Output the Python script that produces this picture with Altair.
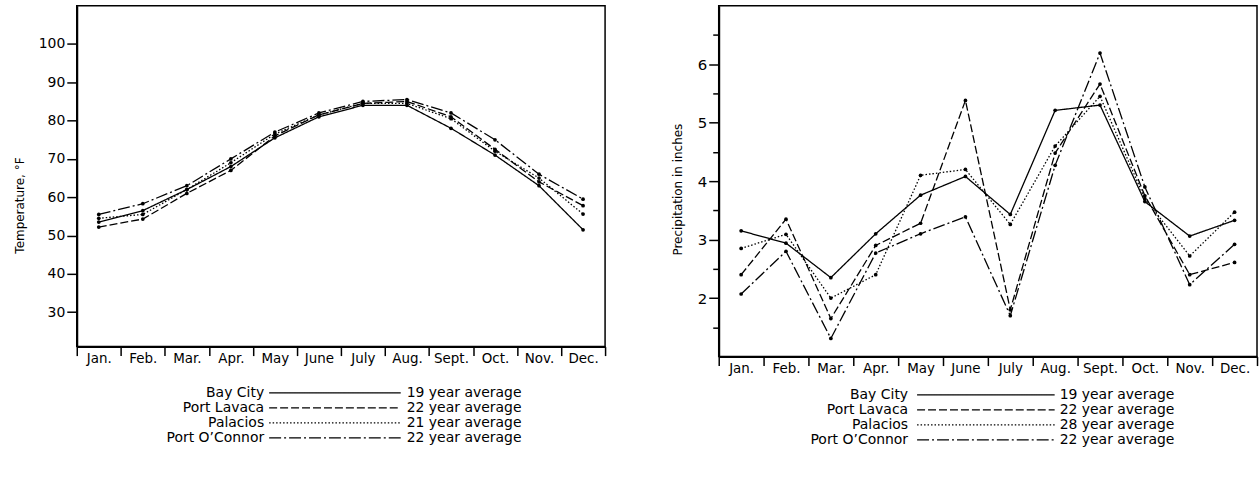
import altair as alt
import pandas as pd

months = ["Jan.", "Feb.", "Mar.", "Apr.", "May", "June", "July", "Aug.", "Sept.", "Oct.", "Nov.", "Dec."]
stations = ["Bay City", "Port Lavaca", "Palacios", "Port O\u2019Connor"]

# Temperature, deg F
temp_bay_city = [53.5, 56.5, 62.0, 68.0, 75.5, 81.0, 84.0, 84.0, 78.0, 71.0, 63.0, 51.5]
temp_port_lavaca = [52.2, 54.3, 61.0, 67.0, 76.0, 81.5, 84.5, 85.0, 81.0, 72.5, 64.0, 57.8]
temp_palacios = [54.5, 55.5, 62.0, 69.0, 76.5, 81.5, 84.5, 84.5, 80.5, 72.0, 65.0, 55.6]
temp_port_oconnor = [55.5, 58.3, 63.0, 70.0, 77.0, 82.0, 85.0, 85.5, 82.0, 75.0, 66.0, 59.5]

# Precipitation, inches
prec_bay_city = [3.15, 2.94, 2.35, 3.10, 3.76, 4.08, 3.43, 5.21, 5.30, 3.65, 3.06, 3.33]
prec_port_lavaca = [2.40, 3.35, 1.65, 2.90, 3.28, 5.38, 1.80, 4.48, 5.66, 3.75, 2.40, 2.61]
prec_palacios = [2.85, 3.09, 2.00, 2.40, 4.10, 4.20, 3.26, 4.60, 5.45, 3.70, 2.72, 3.47]
prec_port_oconnor = [2.07, 2.80, 1.31, 2.77, 3.10, 3.39, 1.70, 4.27, 6.19, 3.90, 2.23, 2.92]

temp_years = ["19 year average", "22 year average", "21 year average", "22 year average"]
prec_years = ["19 year average", "22 year average", "28 year average", "22 year average"]

temp_ticks = [30, 40, 50, 60, 70, 80, 90, 100]
prec_ticks = [1.5, 2, 2.5, 3, 3.5, 4, 4.5, 5, 5.5, 6, 6.5]

dash_styles = [[1, 0], [8, 3], [1.5, 2], [12, 3, 2, 3]]
FONT = "DejaVu Sans"


def long_table(series):
    rows = []
    for st, vals in zip(stations, series):
        for m, v in zip(months, vals):
            rows.append({"station": st, "month": m, "value": v})
    return pd.DataFrame(rows)


temp_df = long_table([temp_bay_city, temp_port_lavaca, temp_palacios, temp_port_oconnor])
prec_df = long_table([prec_bay_city, prec_port_lavaca, prec_palacios, prec_port_oconnor])

dash_enc = alt.StrokeDash("station:N", scale=alt.Scale(domain=stations, range=dash_styles), legend=None)


def panel(df, ytitle, ydomain, yvalues, width, height, title_x, title_y, label_size, minor):
    x = alt.X(
        "month:N", sort=months, bandPosition=0.5,
        scale=alt.Scale(type="band", paddingInner=0, paddingOuter=0),
        axis=alt.Axis(title=None, tickBand="extent", labelAngle=0, tickSize=9, tickWidth=1.5,
                      labelPadding=3, labelBaseline="middle", labelFontSize=13.5, labelFont=FONT,
                      labelColor="black", tickColor="black", domainColor="black", domainWidth=2,
                      grid=False),
    )
    axis_kw = dict(title=ytitle, values=yvalues, grid=False, tickColor="black", tickWidth=1.5,
                   domainColor="black", domainWidth=2, labelFont=FONT, labelFontSize=label_size,
                   labelColor="black", labelPadding=2, titleFont=FONT, titleFontSize=12,
                   titleFontWeight="normal", titleColor="black", titleX=title_x, titleY=title_y,
                   titleAngle=-90, titleAlign="center", titleBaseline="middle")
    if minor:
        axis_kw["tickSize"] = {"condition": {"test": "datum.value % 1 !== 0", "value": 6}, "value": 10}
        axis_kw["labelExpr"] = "datum.value % 1 === 0 ? format(datum.value, 'd') : ''"
    else:
        axis_kw["tickSize"] = 10
    y = alt.Y("value:Q", scale=alt.Scale(domain=ydomain, nice=False, zero=False),
              axis=alt.Axis(**axis_kw))
    base = alt.Chart(df).encode(x=x, y=y)
    lines = base.mark_line(color="black", strokeWidth=1.3).encode(strokeDash=dash_enc, detail="station:N")
    pts = base.mark_point(filled=True, color="black", size=14, opacity=1)
    return alt.layer(lines, pts).properties(
        width=width, height=height,
        view=alt.ViewBackground(stroke="black", strokeWidth=1.5),
    )


def legend(years, width, lx, l1, l2, yx):
    ldf = pd.DataFrame({"station": stations, "years": years})
    base = alt.Chart(ldf).encode(
        y=alt.Y("station:N", sort=stations, axis=None, scale=alt.Scale(type="point", padding=0.5))
    )
    names = base.mark_text(align="right", baseline="middle", fontSize=14, font=FONT, color="black").encode(
        x=alt.value(lx), text="station:N")
    rules = base.mark_rule(color="black", strokeWidth=1.3).encode(
        x=alt.value(l1), x2=alt.value(l2), strokeDash=dash_enc)
    yrs = base.mark_text(align="left", baseline="middle", fontSize=14, font=FONT, color="black").encode(
        x=alt.value(yx), text="years:N")
    return alt.layer(names, rules, yrs).properties(
        width=width, height=60, view=alt.ViewBackground(stroke=None))


left_plot = panel(temp_df, "Temperature, \u00b0F", [21, 110], temp_ticks, 530, 342, -57, 200, 14, False)
right_plot = panel(prec_df, "Precipitation in inches", [1, 7], prec_ticks, 540, 352, -41, 184, 15, True)

left_leg = legend(temp_years, 480, 188, 193, 325, 331)
right_leg = legend(prec_years, 500, 190, 199, 337, 342)

left_col = alt.vconcat(left_plot, left_leg, spacing=19)
right_col = alt.vconcat(right_plot, right_leg, spacing=11)

chart = alt.hconcat(left_col, right_col, spacing=64).properties(
    padding={"left": 13, "top": 4, "right": 0, "bottom": 0},
    background="white",
).configure_view(stroke="black")

chart.save("out.html", embed_options={"renderer": "svg", "actions": False})
